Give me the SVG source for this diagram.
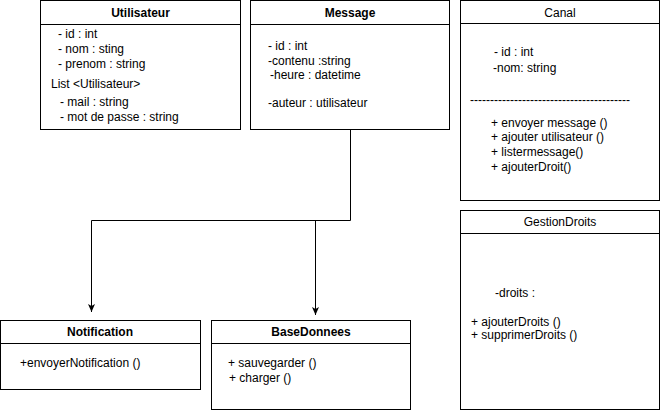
<svg xmlns="http://www.w3.org/2000/svg" width="662" height="411" viewBox="0 0 662 411">
<style>
.box{fill:#fff;stroke:#000;stroke-width:1}
.sep{stroke:#000;stroke-width:1}
text{font-family:"Liberation Sans",Arial,Helvetica,sans-serif;font-size:12px;fill:#000}
.t{font-weight:bold;text-anchor:middle}
.tn{text-anchor:middle}
.c{fill:none;stroke:#000;stroke-width:1}
</style>
<defs>
<marker id="arr" viewBox="0 0 8 8" refX="8" refY="4" markerWidth="8" markerHeight="8" markerUnits="userSpaceOnUse" orient="auto">
<path d="M0,0.5 L8,4 L0,7.5 L2,4 Z" fill="#000"/>
</marker>
</defs>
<rect width="662" height="411" fill="#fff"/>
<g id="connectors">
<path class="c" d="M350.5,129 V220.5 H91.5 V312" marker-end="url(#arr)"/>
<path class="c" d="M315.5,220.5 V315" marker-end="url(#arr)"/>
</g>
<g id="Utilisateur">
<rect class="box" x="40.5" y="0.5" width="200" height="129"/>
<line class="sep" x1="40.5" y1="24.5" x2="240.5" y2="24.5"/>
<text class="t" x="140.5" y="17">Utilisateur</text>
<text x="58" y="38">- id : int</text>
<text x="58" y="53">- nom : sting</text>
<text x="58" y="68">- prenom : string</text>
<text x="51" y="88">List &lt;Utilisateur&gt;</text>
<text x="60" y="106">- mail : string</text>
<text x="60" y="121">- mot de passe : string</text>
</g>
<g id="Message">
<rect class="box" x="250.5" y="0.5" width="199" height="129"/>
<line class="sep" x1="250.5" y1="24.5" x2="449.5" y2="24.5"/>
<text class="t" x="350" y="17">Message</text>
<text x="268" y="50">- id : int</text>
<text x="268" y="65">-contenu :string</text>
<text x="270" y="79">-heure : datetime</text>
<text x="268" y="107">-auteur : utilisateur</text>
</g>
<g id="Canal">
<rect class="box" x="460.5" y="0.5" width="199" height="200"/>
<line class="sep" x1="460.5" y1="23.5" x2="659.5" y2="23.5"/>
<text class="tn" x="560" y="17">Canal</text>
<text x="494" y="56">- id : int</text>
<text x="493" y="72">-nom: string</text>
<text x="470" y="104" textLength="160" lengthAdjust="spacingAndGlyphs">----------------------------------------</text>
<text x="491" y="127">+ envoyer message ()</text>
<text x="491" y="141">+ ajouter utilisateur ()</text>
<text x="491" y="156">+ listermessage()</text>
<text x="491" y="171">+ ajouterDroit()</text>
</g>
<g id="GestionDroits">
<rect class="box" x="460.5" y="210.5" width="199" height="199"/>
<line class="sep" x1="460.5" y1="233.5" x2="659.5" y2="233.5"/>
<text class="tn" x="560" y="226">GestionDroits</text>
<text x="495" y="297">-droits :</text>
<text x="471" y="326">+ ajouterDroits ()</text>
<text x="471" y="339">+ supprimerDroits ()</text>
</g>
<g id="Notification">
<rect class="box" x="0.5" y="320.5" width="200" height="69"/>
<line class="sep" x1="0.5" y1="343.5" x2="200.5" y2="343.5"/>
<text class="t" x="100" y="336">Notification</text>
<text x="20" y="367">+envoyerNotification ()</text>
</g>
<g id="BaseDonnees">
<rect class="box" x="211.5" y="320.5" width="199" height="89"/>
<line class="sep" x1="211.5" y1="343.5" x2="410.5" y2="343.5"/>
<text class="t" x="311" y="336">BaseDonnees</text>
<text x="228" y="367">+ sauvegarder ()</text>
<text x="229" y="382">+ charger ()</text>
</g>
</svg>
